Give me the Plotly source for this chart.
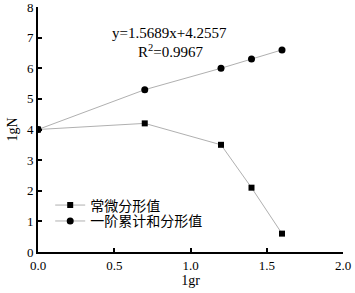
import plotly.graph_objects as go

lgr = [0, 0.7, 1.2, 1.4, 1.6]
constant_fd = [4.0, 4.2, 3.5, 2.1, 0.6]
accum_fd = [4.0, 5.3, 6.0, 6.3, 6.6]
series_names = ["常微分形值", "一阶累计和分形值"]
x_ticks = [0, 0.5, 1.0, 1.5, 2.0]
x_ticktext = ["0.0", "0.5", "1.0", "1.5", "2.0"]
y_ticks = [0, 1, 2, 3, 4, 5, 6, 7, 8]

FONT = "Liberation Serif, Noto Sans CJK SC, serif"

fig = go.Figure()
fig.add_trace(go.Scatter(x=lgr, y=constant_fd, mode="lines+markers", name=series_names[0],
                         line=dict(color="#b0b0b0", width=1),
                         marker=dict(symbol="square", size=6, color="black"),
                         legend="legend"))
fig.add_trace(go.Scatter(x=lgr, y=accum_fd, mode="lines+markers", name=series_names[1],
                         line=dict(color="#b0b0b0", width=1),
                         marker=dict(symbol="circle", size=7, color="black"),
                         legend="legend2"))

fig.add_annotation(x=0.86, y=7.15, text="y=1.5689x+4.2557", showarrow=False,
                   font=dict(family=FONT, size=15, color="black"))
fig.add_annotation(x=0.87, y=6.55, text="R<sup>2</sup>=0.9967", showarrow=False,
                   font=dict(family=FONT, size=15, color="black"))

leg_common = dict(xanchor="left", yanchor="middle", bgcolor="rgba(0,0,0,0)",
                  font=dict(size=14), itemwidth=30)

fig.update_layout(
    width=355, height=293,
    margin=dict(l=38, r=12, t=7, b=41, autoexpand=False),
    paper_bgcolor="white", plot_bgcolor="white",
    font=dict(family=FONT, size=13, color="black"),
    showlegend=True,
    legend=dict(x=0.04, y=0.19, **leg_common),
    legend2=dict(x=0.04, y=0.125, **leg_common),
    xaxis=dict(range=[0, 2.0], tickvals=x_ticks, ticktext=x_ticktext,
               showgrid=False, zeroline=False, showline=True, linecolor="black", linewidth=2,
               ticks="inside", ticklen=4, tickwidth=1.5, tickcolor="black",
               automargin=False, ticklabeloverflow="allow",
               title=dict(text="1gr", standoff=2, font=dict(size=14))),
    yaxis=dict(range=[0, 8], tickvals=y_ticks,
               showgrid=False, zeroline=False, showline=True, linecolor="black", linewidth=2,
               ticks="inside", ticklen=4, tickwidth=1.5, tickcolor="black",
               automargin=False, ticklabeloverflow="allow",
               title=dict(text="1gN", standoff=6, font=dict(size=14))),
)

fig.write_html("out.html", config={"displayModeBar": False},
               post_script="document.body.style.margin='0';document.body.style.overflow='hidden';")
